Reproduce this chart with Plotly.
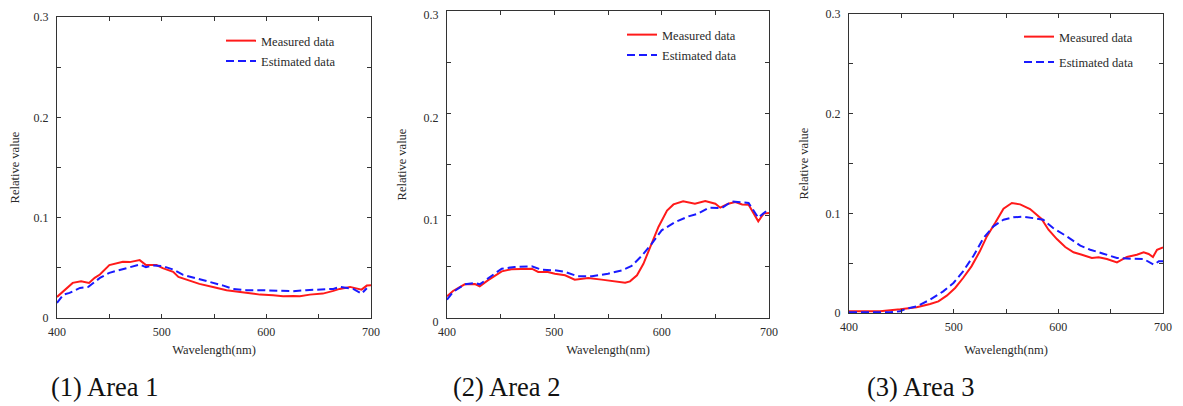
import plotly.graph_objects as go

# ---------------- data ----------------
# Area 1
a1_meas_x = [400, 409, 415, 423, 430.6, 436, 441, 450, 463, 469.5, 479, 485, 495, 501, 511, 516, 524, 536, 549, 562, 575, 587, 594, 606.5, 616, 625.7, 632, 641.6, 654, 664, 670, 680, 691, 696, 700]
a1_meas_y = [0.021, 0.030, 0.035, 0.0367, 0.035, 0.040, 0.0433, 0.0527, 0.056, 0.0557, 0.0577, 0.0527, 0.0527, 0.0497, 0.046, 0.041, 0.0383, 0.034, 0.031, 0.0277, 0.026, 0.0243, 0.0233, 0.0227, 0.0217, 0.022, 0.0217, 0.0233, 0.0243, 0.027, 0.029, 0.031, 0.0283, 0.0323, 0.0327]
a1_est_x = [400, 406, 412, 422, 430, 433, 441, 450, 460, 469.5, 479, 485, 492, 501, 511, 520.5, 533, 546, 559, 568, 581, 594, 610, 625.7, 638, 651, 664, 670, 683, 691, 696]
a1_est_y = [0.015, 0.0233, 0.025, 0.030, 0.031, 0.0333, 0.040, 0.045, 0.0477, 0.050, 0.0533, 0.0507, 0.0523, 0.0517, 0.0483, 0.043, 0.0397, 0.0357, 0.0323, 0.029, 0.0277, 0.0277, 0.0273, 0.0267, 0.0277, 0.0283, 0.029, 0.031, 0.029, 0.0243, 0.0297]

# Area 2
a2_meas_x = [400, 405.6, 416.5, 426, 430.5, 438, 451, 460, 469, 479, 485, 494, 500.5, 510, 519, 531.6, 544, 556.5, 566, 570.5, 577, 583, 589, 597, 605, 611, 620, 631, 640.6, 650, 654.6, 662, 668.6, 675, 681, 690, 695, 700]
a2_meas_y = [0.0212, 0.0264, 0.0329, 0.0332, 0.031, 0.0368, 0.0456, 0.0476, 0.0479, 0.0482, 0.045, 0.045, 0.0433, 0.0417, 0.0375, 0.039, 0.0375, 0.0362, 0.0345, 0.0358, 0.0417, 0.053, 0.0678, 0.089, 0.105, 0.111, 0.114, 0.1117, 0.1143, 0.1117, 0.1078, 0.1117, 0.1134, 0.111, 0.1107, 0.0945, 0.102, 0.1026]
a2_est_x = [400, 405.6, 416.5, 426, 430.5, 441, 451, 463, 479, 488, 500.5, 510, 522, 535, 550, 563, 572, 581, 590.8, 600, 612.6, 625, 634, 644, 656, 665.5, 675, 681, 690, 700]
a2_est_y = [0.0179, 0.0254, 0.0329, 0.0342, 0.0329, 0.0407, 0.0482, 0.0498, 0.0505, 0.0472, 0.0466, 0.045, 0.0407, 0.0407, 0.0433, 0.0466, 0.0508, 0.0603, 0.0726, 0.0857, 0.0938, 0.0993, 0.102, 0.1078, 0.1075, 0.114, 0.1134, 0.1124, 0.098, 0.1068]

# Area 3
a3_meas_x = [400, 429.6, 449, 464.7, 477.5, 485.4, 493.4, 501.4, 509, 517, 525, 531.7, 539.6, 547.6, 555.6, 563.5, 573, 584, 590.6, 598.6, 606.6, 614.5, 622.5, 632, 638.5, 646.4, 656, 665.5, 675, 681.5, 686.3, 690.4, 694.3, 700]
a3_meas_y = [0.0017, 0.0017, 0.0037, 0.0057, 0.009, 0.0117, 0.0174, 0.0251, 0.0351, 0.0468, 0.0619, 0.0769, 0.0903, 0.1047, 0.1104, 0.109, 0.1043, 0.0943, 0.0836, 0.0742, 0.0662, 0.0609, 0.0585, 0.0552, 0.0559, 0.0542, 0.0508, 0.0562, 0.0585, 0.0609, 0.0592, 0.0562, 0.0635, 0.0659]
a3_est_x = [400, 439, 449, 453.6, 464.7, 477.5, 490, 499.8, 509, 519, 528.5, 538, 547.6, 557, 566.7, 576, 585.6, 595, 608, 621, 630.5, 643, 656, 669, 681.5, 691, 696, 700]
a3_est_y = [0.0007, 0.0007, 0.0017, 0.004, 0.0067, 0.0134, 0.0217, 0.0301, 0.0418, 0.0575, 0.0753, 0.087, 0.0936, 0.096, 0.0967, 0.0953, 0.0936, 0.0853, 0.0769, 0.0676, 0.0635, 0.0595, 0.0552, 0.0545, 0.0542, 0.0485, 0.0518, 0.0518]

series_names = ["Measured data", "Estimated data"]
panel_titles = ["(1) Area 1", "(2) Area 2", "(3) Area 3"]
x_tickvals = [400, 450, 500, 550, 600, 650, 700]
x_ticktext = ["400", "", "500", "", "600", "", "700"]
y_tickvals = [0, 0.05, 0.1, 0.15, 0.2, 0.25, 0.3]
y_ticktext = ["0", "", "0.1", "", "0.2", "", "0.3"]
x_title = "Wavelength(nm)"
y_title = "Relative value"

# ---------------- layout geometry ----------------
# the page body has an 8px margin, so figure coordinates = page coordinates - 8
OFF = 8
W, H = 1183 - OFF, 406 - OFF
px_x = [(57, 371), (447, 769), (849, 1163)]
px_y = [(17, 318), (11, 318), (14, 313)]
legend_px = [(221, 26), (622, 20), (1019, 22)]
title_px = [(49, 387), (451, 387), (865, 387)]
xtitle_standoff = [7, 7, 12]
ylabel_shift = [0, 4, 0]

FONT = "Liberation Serif, Times New Roman, serif"
RED = "#ff1a1a"
BLUE = "#1a1aff"
TXT = "#2a2a2a"

data = [
    (a1_meas_x, a1_meas_y, a1_est_x, a1_est_y),
    (a2_meas_x, a2_meas_y, a2_est_x, a2_est_y),
    (a3_meas_x, a3_meas_y, a3_est_x, a3_est_y),
]

fig = go.Figure()
layout = dict(
    width=W, height=H,
    margin=dict(l=0, r=0, t=0, b=0),
    paper_bgcolor="white", plot_bgcolor="white",
    font=dict(family=FONT, size=12, color=TXT),
    showlegend=True,
    annotations=[],
)

for i, (mx, my, ex, ey) in enumerate(data):
    sfx = "" if i == 0 else str(i + 1)
    leg = "legend" if i == 0 else f"legend{i + 1}"
    fig.add_trace(go.Scatter(
        x=mx, y=my, mode="lines", name=series_names[0],
        line=dict(color=RED, width=2), xaxis="x" + sfx, yaxis="y" + sfx,
        legend=leg, legendgroup=f"m{i}", cliponaxis=True,
    ))
    fig.add_trace(go.Scatter(
        x=ex, y=ey, mode="lines", name=series_names[1],
        line=dict(color=BLUE, width=2, dash="8px,4px"), xaxis="x" + sfx, yaxis="y" + sfx,
        legend=leg, legendgroup=f"e{i}", cliponaxis=True,
    ))
    x0, x1 = [v - OFF for v in px_x[i]]
    y0, y1 = [v - OFF for v in px_y[i]]
    axcommon = dict(
        showline=True, linecolor="#333", linewidth=1.2, mirror="ticks",
        ticks="inside", ticklen=4, tickwidth=1, tickcolor="#333",
        showgrid=False, zeroline=False, automargin=False,
        ticklabeloverflow="allow",
        tickfont=dict(family=FONT, size=12, color=TXT),
    )
    layout["xaxis" + sfx] = dict(
        axcommon,
        domain=[x0 / W, x1 / W], anchor="y" + sfx,
        range=[400, 700], tickvals=x_tickvals, ticktext=x_ticktext,
        ticklabelstandoff=2,
        title=dict(text=x_title, font=dict(family=FONT, size=12.5, color=TXT),
                   standoff=xtitle_standoff[i]),
    )
    layout["yaxis" + sfx] = dict(
        axcommon,
        domain=[1 - y1 / H, 1 - y0 / H], anchor="x" + sfx,
        range=[0, 0.3], tickvals=y_tickvals, ticktext=y_ticktext,
        ticklabelstandoff=5, ticklabelshift=ylabel_shift[i],
        title=dict(text=y_title, font=dict(family=FONT, size=12.5, color=TXT), standoff=14),
    )
    lx, ly = legend_px[i]
    layout[leg] = dict(
        x=(lx - OFF) / W, y=1 - (ly - OFF) / H, xanchor="left", yanchor="top",
        bgcolor="rgba(0,0,0,0)", borderwidth=0,
        font=dict(family=FONT, size=12.5, color=TXT),
        tracegroupgap=(6 if i == 2 else 1), traceorder="grouped",
    )
    tx, ty = title_px[i]
    layout["annotations"].append(dict(
        text=panel_titles[i], x=(tx - OFF) / W, y=1 - (ty - OFF) / H,
        xref="paper", yref="paper",
        xanchor="left", yanchor="middle", showarrow=False,
        font=dict(family=FONT, size=26.5, color="#111"),
    ))

fig.update_layout(**layout)
fig.write_html("out.html")
